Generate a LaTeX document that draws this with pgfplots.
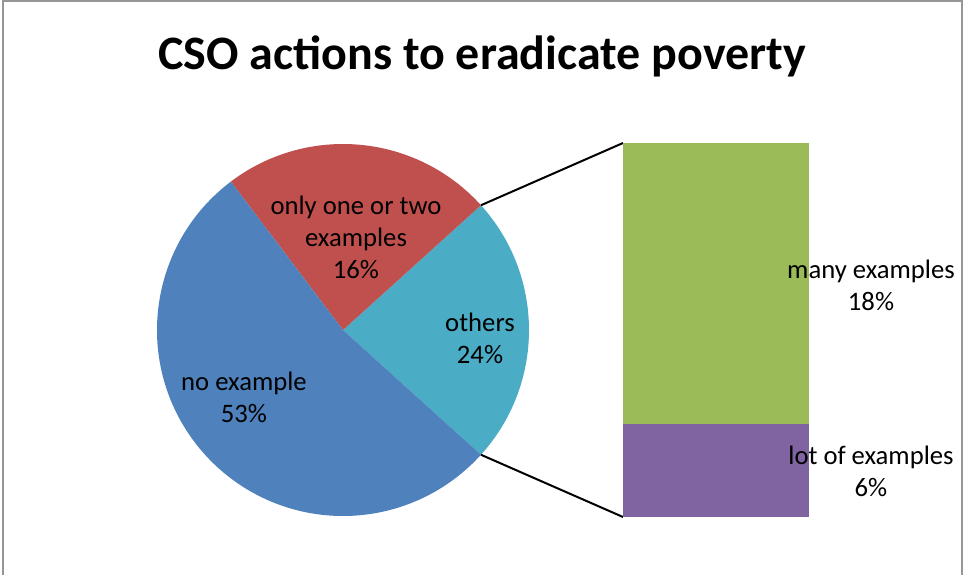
\documentclass[border=0pt]{standalone}
\usepackage{fontspec}
\setmainfont{Carlito}
\usepackage{pgfplots}
\pgfplotsset{compat=1.18}
\usepackage{pgfplotstable}
\definecolor{cblue}{RGB}{79,129,189}
\definecolor{cred}{RGB}{192,80,77}
\definecolor{ccyan}{RGB}{75,172,198}
\definecolor{cgreen}{RGB}{155,187,89}
\definecolor{cpurple}{RGB}{128,100,162}
\definecolor{frame}{RGB}{150,150,150}
% pie slices (share of the circle, in percent)
\pgfplotstableread{
slice value
noexample 53.0
onetwo 23.6
others 23.4
}\pietable
% bar of pie (split of "others")
\pgfplotstableread{
x many lot
0 18 6
}\bartable
\pgfplotstablegetelem{0}{value}\of\pietable \let\vA\pgfplotsretval
\pgfplotstablegetelem{1}{value}\of\pietable \let\vB\pgfplotsretval
\pgfplotstablegetelem{2}{value}\of\pietable \let\vC\pgfplotsretval
\pgfmathsetmacro\aS{-\vC*1.8}
\pgfmathsetmacro\aC{\vC*1.8}
\pgfmathsetmacro\aR{\aC+\vB*3.6}
\pgfmathsetmacro\aB{\aR+\vA*3.6}
\def\R{139.5pt}
\pgfplotsset{pix/.style={x=0.75pt,y=0.75pt,xmin=0,xmax=963,ymin=0,ymax=575,
  hide axis,clip=false,at={(0,0)},anchor=origin}}
\begin{document}
\begin{tikzpicture}
\begin{axis}[pix]
\path (axis cs:0,0) rectangle (axis cs:963,575);
\draw[frame,line width=1.5pt] (axis cs:2.5,0) -- (axis cs:2.5,574) -- (axis cs:962,574) -- (axis cs:962,0);
\fill[ccyan] (axis cs:343,245) -- ++(\aS:\R) arc[start angle=\aS,end angle=\aC,radius=\R] -- cycle;
\fill[cred] (axis cs:343,245) -- ++(\aC:\R) arc[start angle=\aC,end angle=\aR,radius=\R] -- cycle;
\fill[cblue] (axis cs:343,245) -- ++(\aR:\R) arc[start angle=\aR,end angle=\aB,radius=\R] -- cycle;
\draw[black,line width=1.5pt] (axis cs:343,245) ++(\aC:\R) -- (axis cs:623,432);
\draw[black,line width=1.5pt] (axis cs:343,245) ++(\aS:\R) -- (axis cs:623,58);
\end{axis}
\begin{axis}[at={(467.25pt,43.5pt)},anchor=south west,scale only axis,
  width=139.5pt,height=280.5pt,hide axis,xmin=-0.5,xmax=0.5,ymin=0,ymax=24,
  ybar stacked,bar width=139.5pt,clip=false]
\addplot[fill=cpurple,draw=none] table[x=x,y=lot] {\bartable};
\addplot[fill=cgreen,draw=none] table[x=x,y=many] {\bartable};
\end{axis}
\begin{axis}[pix]
\node[anchor=base,font=\fontsize{36}{42}\selectfont\bfseries] at (axis cs:482,505) {CSO actions to eradicate poverty};
\begin{scope}[every node/.style={align=center,font=\fontsize{20}{24}\selectfont}]
\node at (axis cs:356,338) {only one or two\\examples\\16\%};
\node at (axis cs:480,237) {others\\24\%};
\node at (axis cs:244,178) {no example\\53\%};
\node at (axis cs:871,290) {many examples\\18\%};
\node at (axis cs:871,104) {lot of examples\\6\%};
\end{scope}
\end{axis}
\end{tikzpicture}
\end{document}
